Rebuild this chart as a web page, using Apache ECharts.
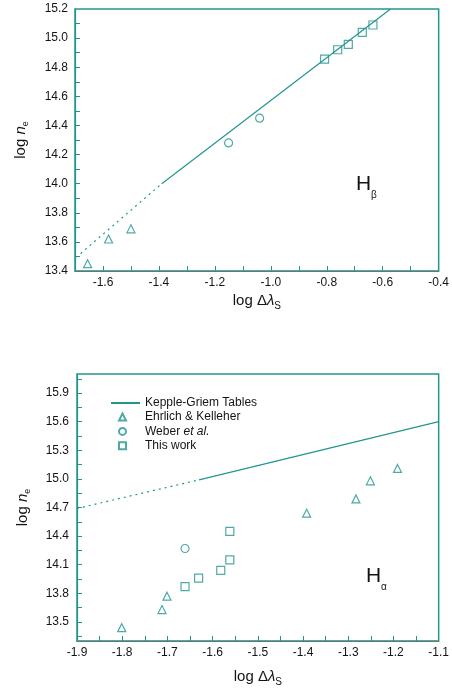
<!DOCTYPE html>
<html>
<head>
<meta charset="utf-8">
<script src="https://cdn.jsdelivr.net/npm/echarts@6/dist/echarts.min.js"></script>
<style>
  html, body { margin: 0; padding: 0; background: #fff; }
  #main { width: 452px; height: 694px; }
</style>
</head>
<body>
<div id="main"></div>
<script>
// H-beta panel (top)
const hbTickX = [-1.6, -1.5, -1.4, -1.3, -1.2, -1.1, -1.0, -0.9, -0.8, -0.7, -0.6, -0.5];
const hbLabelX = [-1.6, -1.4, -1.2, -1.0, -0.8, -0.6, -0.4];
const hbTickY = [13.5, 13.6, 13.7, 13.8, 13.9, 14.0, 14.1, 14.2, 14.3, 14.4, 14.5, 14.6, 14.7, 14.8, 14.9, 15.0, 15.1];
const hbLabelY = [13.4, 13.6, 13.8, 14.0, 14.2, 14.4, 14.6, 14.8, 15.0, 15.2];
const hbKgSolid = [[-1.39, 14.0], [-0.572, 15.2]];
const hbKgDotted = [[-1.68, 13.52], [-1.39, 14.0]];
const hbEhrlich = [[-1.655, 13.45], [-1.58, 13.62], [-1.50, 13.69]];
const hbWeber = [[-1.151, 14.28], [-1.04, 14.45]];
const hbThisWork = [[-0.808, 14.855], [-0.761, 14.92], [-0.723, 14.957], [-0.673, 15.04], [-0.635, 15.09]];

// H-alpha panel (bottom)
const haTickX = [-1.85, -1.8, -1.75, -1.7, -1.65, -1.6, -1.55, -1.5, -1.45, -1.4, -1.35, -1.3, -1.25, -1.2, -1.15];
const haLabelX = [-1.9, -1.8, -1.7, -1.6, -1.5, -1.4, -1.3, -1.2, -1.1];
const haTickY = [13.35, 13.5, 13.65, 13.8, 13.95, 14.1, 14.25, 14.4, 14.55, 14.7, 14.85, 15.0, 15.15, 15.3, 15.45, 15.6, 15.75, 15.9, 16.05];
const haLabelY = [13.5, 13.8, 14.1, 14.4, 14.7, 15.0, 15.3, 15.6, 15.9];
const haKgSolid = [[-1.63, 14.99], [-1.1, 15.6]];
const haKgDotted = [[-1.9, 14.69], [-1.63, 14.99]];
const haEhrlich = [[-1.801, 13.44], [-1.712, 13.63], [-1.701, 13.77], [-1.392, 14.64], [-1.283, 14.79], [-1.251, 14.98], [-1.191, 15.11]];
const haWeber = [[-1.661, 14.27]];
const haThisWork = [[-1.661, 13.87], [-1.631, 13.96], [-1.582, 14.04], [-1.562, 14.15], [-1.562, 14.45]];

const lineName = 'Kepple-Griem Tables';
const markerNames = ['Ehrlich & Kelleher', 'Weber et al.', 'This work'];

const teal = '#23958f';
const ink = '#141414';
const fringe = 'rgba(235,90,90,0.45)';
const font = '"Liberation Sans", Arial, sans-serif';

const chart = echarts.init(document.getElementById('main'), null, { renderer: 'canvas' });

// 坐标轴公共样式
function xAxisOf(grid, min, max, ticks, labels, gap) {
  return {
    gridIndex: grid, type: 'value', min: min, max: max,
    axisLine: { lineStyle: { color: teal, width: 1.2, shadowColor: fringe, shadowOffsetY: -1 } },
    axisTick: { inside: true, length: 5, customValues: ticks, lineStyle: { color: teal } },
    axisLabel: {
      customValues: labels, margin: 6, color: ink, fontSize: 12, fontFamily: font,
      showMinLabel: true, showMaxLabel: true,
      textShadowColor: fringe, textShadowOffsetX: -1,
      formatter: v => v.toFixed(1)
    },
    splitLine: { show: false },
    name: '{a|log Δ}{b|λ}{s|S}',
    nameLocation: 'middle', nameGap: gap,
    nameTextStyle: {
      rich: {
        a: { fontSize: 15, color: ink, fontFamily: font, textShadowColor: fringe, textShadowOffsetX: -1 },
        b: { fontSize: 15, color: ink, fontStyle: 'italic', fontFamily: font, textShadowColor: fringe, textShadowOffsetX: -1 },
        s: { fontSize: 10, color: ink, fontFamily: font, padding: [10, 0, 0, 0], textShadowColor: fringe, textShadowOffsetX: -1 }
      }
    }
  };
}

function yAxisOf(grid, min, max, ticks, labels, margin) {
  return {
    gridIndex: grid, type: 'value', min: min, max: max,
    axisLine: { lineStyle: { color: teal, width: 1.2 } },
    axisTick: { inside: true, length: 5, customValues: ticks, lineStyle: { color: teal } },
    axisLabel: {
      customValues: labels, margin: margin, color: ink, fontSize: 12, fontFamily: font,
      showMinLabel: true, showMaxLabel: true,
      textShadowColor: fringe, textShadowOffsetX: -1,
      formatter: v => v.toFixed(1)
    },
    splitLine: { show: false },
    name: '{a|log }{n|n}{s|e}',
    nameLocation: 'middle', nameGap: 45,
    nameTextStyle: {
      rich: {
        a: { fontSize: 15, color: ink, fontFamily: font, textShadowColor: fringe, textShadowOffsetX: -1 },
        n: { fontSize: 15, color: ink, fontStyle: 'italic', fontFamily: font, textShadowColor: fringe, textShadowOffsetX: -1 },
        s: { fontSize: 9, color: ink, fontFamily: font, padding: [9, 0, 0, 0], textShadowColor: fringe, textShadowOffsetX: -1 }
      }
    }
  };
}

function markers(name, data, symbol, idx) {
  return {
    name: name, type: 'scatter', data: data, symbol: symbol, symbolSize: 8,
    xAxisIndex: idx, yAxisIndex: idx,
    itemStyle: { color: '#fff', borderColor: teal, borderWidth: 1.2 }
  };
}

function kgLine(name, data, idx, dashed) {
  return {
    name: name, type: 'line', data: data, symbol: 'none',
    xAxisIndex: idx, yAxisIndex: idx,
    lineStyle: { color: teal, width: 1.2, type: dashed ? [2, 4] : 'solid' },
    itemStyle: { color: teal }
  };
}

const legendText = {
  color: ink, fontSize: 12, fontFamily: font,
  textShadowColor: fringe, textShadowOffsetX: -1,
  rich: { i: { fontStyle: 'italic', fontSize: 12, color: ink, fontFamily: font } }
};

const option = {
  animation: false,
  backgroundColor: '#fff',
  grid: [
    { left: 75, top: 9, width: 366, height: 262, show: true, borderColor: teal, borderWidth: 1.5 },
    { left: 77, top: 374, width: 365, height: 267, show: true, borderColor: teal, borderWidth: 1.5 }
  ],
  xAxis: [
    xAxisOf(0, -1.7, -0.4, hbTickX, hbLabelX, 20),
    xAxisOf(1, -1.9, -1.1, haTickX, haLabelX, 26)
  ],
  yAxis: [
    yAxisOf(0, 13.4, 15.2, hbTickY, hbLabelY, 7),
    yAxisOf(1, 13.3, 16.1, haTickY, haLabelY, 8)
  ],
  legend: [
    {
      left: 111, top: 397, orient: 'vertical', padding: 0,
      itemWidth: 29, itemHeight: 2, icon: 'rect',
      data: [lineName],
      textStyle: legendText
    },
    {
      left: 118, top: 411, orient: 'vertical', padding: 0,
      itemWidth: 7, itemHeight: 7, itemGap: 2.4,
      data: markerNames,
      textStyle: Object.assign({ padding: [0, 0, 0, 14] }, legendText),
      formatter: n => n === 'Weber et al.' ? 'Weber {i|et al.}' : n
    }
  ],
  series: [
    kgLine(lineName, hbKgSolid, 0, false),
    kgLine('kg-extrapolated-b', hbKgDotted, 0, true),
    markers(markerNames[0], hbEhrlich, 'triangle', 0),
    markers(markerNames[1], hbWeber, 'circle', 0),
    markers(markerNames[2], hbThisWork, 'rect', 0),
    kgLine(lineName, haKgSolid, 1, false),
    kgLine('kg-extrapolated-a', haKgDotted, 1, true),
    markers(markerNames[0], haEhrlich, 'triangle', 1),
    markers(markerNames[1], haWeber, 'circle', 1),
    markers(markerNames[2], haThisWork, 'rect', 1)
  ],
  graphic: [
    { type: 'text', left: 356, top: 174, style: { text: 'H', fontSize: 21, fill: ink, fontFamily: font } },
    { type: 'text', left: 371, top: 190, style: { text: 'β', fontSize: 10, fill: ink, fontFamily: font } },
    { type: 'text', left: 366, top: 566, style: { text: 'H', fontSize: 21, fill: ink, fontFamily: font } },
    { type: 'text', left: 381, top: 582, style: { text: 'α', fontSize: 10, fill: ink, fontFamily: font } }
  ]
};

chart.setOption(option);
</script>
</body>
</html>
